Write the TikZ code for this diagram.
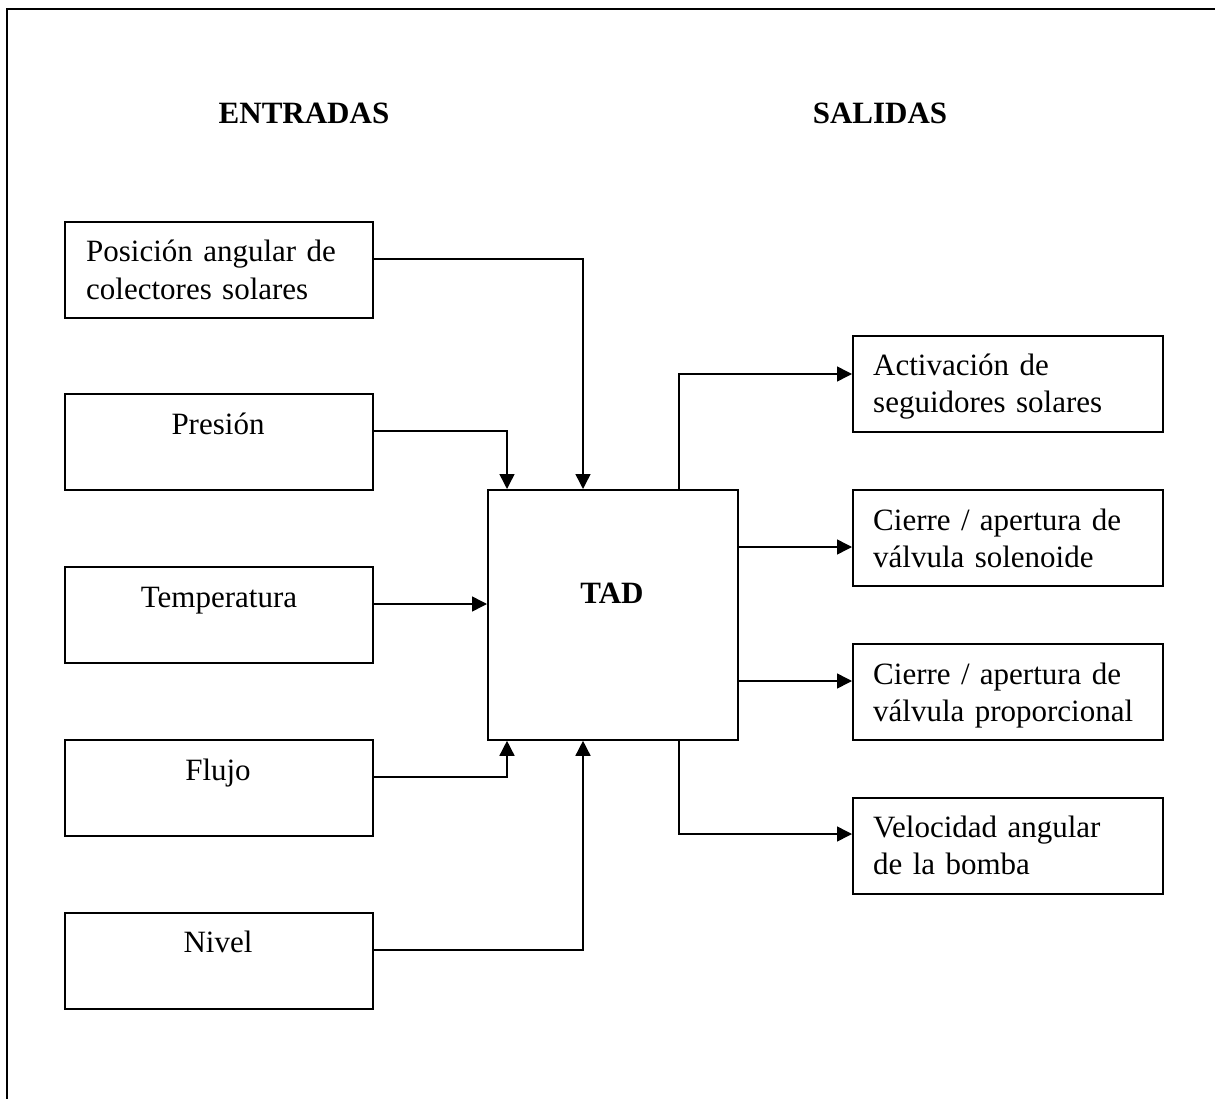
\documentclass[tikz,border=0pt]{standalone}
\usepackage{fontspec}
\setmainfont{Liberation Serif}
\usetikzlibrary{arrows.meta}
\begin{document}
\begin{tikzpicture}[x=1pt,y=-1pt,
  box/.style={draw, line width=1.8pt, minimum width=308pt, minimum height=96pt, anchor=north west, inner sep=0pt},
  tadbox/.style={draw, line width=1.8pt, minimum width=250pt, minimum height=250pt, anchor=north west, inner sep=0pt},
  txt/.style={inner sep=0pt, font=\fontsize{31}{37}\selectfont},
  multi/.style={txt, text width=295pt, align=left, anchor=base west},
  ctxt/.style={txt, anchor=base},
  ttl/.style={inner sep=0pt, font=\fontsize{31}{37}\selectfont\bfseries, anchor=base},
  conn/.style={line width=1.5pt, -{Triangle[length=15pt,width=15pt]}},
  framestyle/.style={line width=1.8pt}]
\useasboundingbox (0,0) rectangle (1215,1099);
% frame
\coordinate (fTL) at (7,9);
\coordinate (fTR) at (1215,9);
\coordinate (fBL) at (7,1099);
\draw[framestyle] (fTR) -- (fTL) -- (fBL);
% titles
\node[ttl] (entradas) at (304,124) {ENTRADAS};
\node[ttl] (salidas) at (880,124) {SALIDAS};
% input boxes
\node[box] (pos) at (64,221) {};
\node[box] (pres) at (64,393) {};
\node[box] (temp) at (64,566) {};
\node[box] (flujo) at (64,739) {};
\node[box] (nivel) at (64,912) {};
\node[multi] (posT) at (86,262) {Posición angular de\\colectores solares};
\node[ctxt] (presT) at (218,434) {Presión};
\node[ctxt] (tempT) at (219,607) {Temperatura};
\node[ctxt] (flujoT) at (218,780) {Flujo};
\node[ctxt] (nivelT) at (218,952) {Nivel};
% central box
\node[tadbox] (tad) at (487,489) {};
\node[ttl] (tadT) at (612,603) {TAD};
% output boxes
\node[box, minimum width=310pt] (act) at (852,335) {};
\node[box, minimum width=310pt] (sol) at (852,489) {};
\node[box, minimum width=310pt] (prop) at (852,643) {};
\node[box, minimum width=310pt] (vel) at (852,797) {};
\node[multi] (actT) at (873,375) {Activación de\\seguidores solares};
\node[multi] (solT) at (873,530) {Cierre / apertura de\\válvula solenoide};
\node[multi] (propT) at (873,684) {Cierre / apertura de\\válvula proporcional};
\node[multi] (velT) at (873,837) {Velocidad angular\\de la bomba};
% input connectors
\draw[conn] (pos.east |- 0,259) -| (tad.north -| 583,0);
\draw[conn] (pres.east |- 0,431) -| (tad.north -| 507,0);
\draw[conn] (temp.east |- 0,604) -- (tad.west |- 0,604);
\draw[conn] (flujo.east |- 0,777) -| (tad.south -| 507,0);
\draw[conn] (nivel.east |- 0,950) -| (tad.south -| 583,0);
% output connectors
\draw[conn] (tad.north -| 679,0) |- (act.west |- 0,374);
\draw[conn] (tad.east |- 0,547) -- (sol.west |- 0,547);
\draw[conn] (tad.east |- 0,681) -- (prop.west |- 0,681);
\draw[conn] (tad.south -| 679,0) |- (vel.west |- 0,834);
\end{tikzpicture}
\end{document}
